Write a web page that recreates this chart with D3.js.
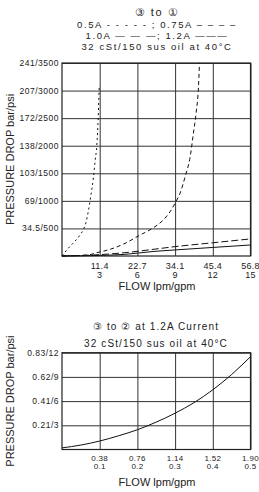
<!DOCTYPE html>
<html>
<head>
<meta charset="utf-8">
<script src="https://cdn.jsdelivr.net/npm/d3@7"></script>
<style>
  body { margin: 0; background: #fff; }
  text { font-family: "Liberation Sans", Arial, sans-serif; fill: #222; }
</style>
</head>
<body>
<div id="vis"></div>
<script>
const WIDTH = 259;
const HEIGHT = 492;

// chart 1 ticks (3 to 1)
const flowLpm1 = ["11.4", "22.7", "34.1", "45.4", "56.8"];
const flowGpm1 = [3, 6, 9, 12, 15];
const presBar1 = ["34.5", "69", "103", "138", "172", "207", "241"];
const presPsi1 = [500, 1000, 1500, 2000, 2500, 3000, 3500];

// chart 1 curves, gpm / psi
const gpm05 = [0, 0.5, 1.0, 1.4, 1.7, 1.9, 2.1, 2.3, 2.5, 2.65, 2.77, 2.88, 2.95, 2.97];
const psi05 = [0, 140, 260, 370, 480, 600, 820, 1100, 1420, 1750, 2000, 2500, 3000, 3100];
const gpm075 = [0, 2.11, 2.77, 3.67, 5.02, 6.21, 7.24, 8.06, 8.59, 9.06, 9.40, 9.80, 10.2, 10.46, 10.67, 10.86, 10.94];
const psi075 = [0, 20, 60, 110, 230, 380, 508, 653, 800, 985, 1140, 1440, 1800, 2230, 2590, 3070, 3500];
const gpm10 = [0, 3, 5, 7.4, 9, 12, 15];
const psi10 = [0, 25, 60, 125, 170, 240, 310];
const gpm12 = [0, 3, 5, 7.4, 9, 12, 15];
const psi12 = [0, 10, 30, 85, 110, 155, 200];

// chart 2 ticks (3 to 2)
const flowLpm2 = ["0.38", "0.76", "1.14", "1.52", "1.90"];
const flowGpm2 = [0.1, 0.2, 0.3, 0.4, 0.5];
const presBar2 = ["0.21", "0.41", "0.62", "0.83"];
const presPsi2 = [3, 6, 9, 12];

// chart 2 curve
const gpm2 = [0, 0.05, 0.1, 0.15, 0.2, 0.25, 0.3, 0.35, 0.4, 0.45, 0.5];
const psi2 = [0.2, 0.55, 1.05, 1.7, 2.45, 3.4, 4.5, 5.8, 7.4, 9.3, 11.5];

const SVG = d3.select("#vis").append("svg").attr("width", WIDTH).attr("height", HEIGHT);

function zip(xs, ys) { return xs.map((x, i) => [x, ys[i]]); }

function panel(cfg) {
    const x = d3.scaleLinear().domain([0, cfg.xMax]).range([62, 250.5]);
    const y = d3.scaleLinear().domain([0, cfg.yMax]).range([cfg.bottom, cfg.top]);
    const g = SVG.append("g");

    // grid lines
    g.append("g")
        .attr("transform", `translate(0,${cfg.bottom})`)
        .call(d3.axisBottom(x).tickValues(cfg.xTicks).tickSize(-(cfg.bottom - cfg.top)).tickFormat(""))
        .call(a => a.select(".domain").remove())
        .selectAll("line").attr("stroke", "#333").attr("stroke-width", 1);
    g.append("g")
        .attr("transform", "translate(62,0)")
        .call(d3.axisLeft(y).tickValues(cfg.yTicks).tickSize(-(250.5 - 62)).tickFormat(""))
        .call(a => a.select(".domain").remove())
        .selectAll("line").attr("stroke", "#333").attr("stroke-width", 1);

    // frame
    g.append("rect")
        .attr("x", 62).attr("y", cfg.top)
        .attr("width", 250.5 - 62).attr("height", cfg.bottom - cfg.top)
        .attr("fill", "none").attr("stroke", "#222").attr("stroke-width", 1.2);

    // y tick labels
    g.selectAll(".ylab").data(cfg.yTicks).join("text")
        .attr("x", 59).attr("y", d => y(d)).attr("dy", "0.35em")
        .attr("text-anchor", "end").attr("font-size", 8.5).attr("letter-spacing", 0.5)
        .text((d, i) => cfg.yBar[i] + "/" + d);

    // x tick labels (two rows)
    const xl = g.selectAll(".xlab").data(cfg.xTicks).join("text")
        .attr("text-anchor", "middle").attr("font-size", cfg.xFont).attr("letter-spacing", 0.3);
    xl.append("tspan").attr("x", d => x(d)).attr("y", cfg.bottom + cfg.row1).text((d, i) => cfg.xLpm[i]);
    xl.append("tspan").attr("x", d => x(d)).attr("y", cfg.bottom + cfg.row2).text(d => d);

    g.append("text").attr("x", 157).attr("y", cfg.bottom + cfg.titleDy)
        .attr("text-anchor", "middle").attr("font-size", 11).text("FLOW lpm/gpm");
    g.append("text")
        .attr("transform", `translate(14,${(cfg.top + cfg.bottom) / 2}) rotate(-90)`)
        .attr("text-anchor", "middle").attr("font-size", 11).text("PRESSURE DROP bar/psi");

    const line = d3.line().x(d => x(d[0])).y(d => y(d[1])).curve(d3.curveMonotoneX);
    cfg.series.forEach(s => {
        g.append("path").datum(zip(s.gpm, s.psi))
            .attr("d", line).attr("fill", "none")
            .attr("stroke", "#111").attr("stroke-width", 1)
            .attr("stroke-dasharray", s.dash);
    });
}

// titles chart 1
const t1 = ["③ to ①", "0.5A - - - - - ; 0.75A – – – –", "1.0A — — —; 1.2A ———", "32 cSt/150 sus oil at 40°C"];
const t1y = [15.5, 27.5, 38.5, 49.5];
SVG.selectAll(".t1").data(t1).join("text")
    .attr("x", 157).attr("y", (d, i) => t1y[i])
    .attr("text-anchor", "middle").attr("font-size", (d, i) => i == 0 ? 11 : 9.5)
    .attr("letter-spacing", 1.6).text(d => d);

panel({
    xMax: 15, yMax: 3500, top: 63, bottom: 256,
    xTicks: flowGpm1, xLpm: flowLpm1, yTicks: presPsi1, yBar: presBar1,
    xFont: 9, row1: 12.5, row2: 22, titleDy: 34,
    series: [
        { gpm: gpm05, psi: psi05, dash: "2,3" },
        { gpm: gpm075, psi: psi075, dash: "4,3" },
        { gpm: gpm10, psi: psi10, dash: "7,3" },
        { gpm: gpm12, psi: psi12, dash: null }
    ]
});

// titles chart 2
const t2 = ["③ to ② at 1.2A Current", "32 cSt/150 sus oil at 40°C"];
const t2y = [330, 346.5];
SVG.selectAll(".t2").data(t2).join("text")
    .attr("x", 156).attr("y", (d, i) => t2y[i])
    .attr("text-anchor", "middle").attr("font-size", 10).attr("letter-spacing", 1.1).text(d => d);

panel({
    xMax: 0.5, yMax: 12, top: 352.7, bottom: 449.5,
    xTicks: flowGpm2, xLpm: flowLpm2, yTicks: presPsi2, yBar: presBar2,
    xFont: 8, row1: 11.5, row2: 19.5, titleDy: 36,
    series: [{ gpm: gpm2, psi: psi2, dash: null }]
});
</script>
</body>
</html>
